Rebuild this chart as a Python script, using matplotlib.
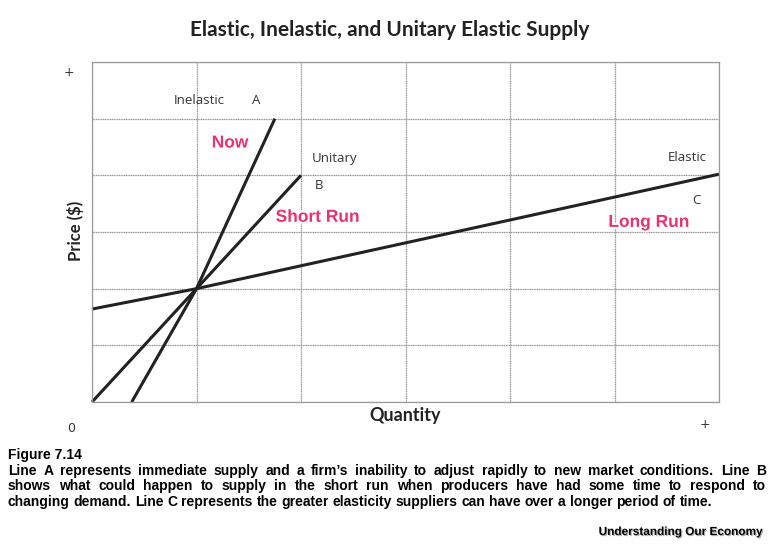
import matplotlib
matplotlib.use("Agg")
import matplotlib.pyplot as plt
import matplotlib.patheffects as pe

# grid cells (6 x 6), crossing point of the three supply lines at (1, 2)
n_cells = 6

line_a_x = [0.38, 1.0, 1.75]
line_a_y = [0.0, 2.0, 5.0]
line_b_x = [0.0, 1.0, 2.0]
line_b_y = [0.0, 2.0, 4.0]
line_c_x = [0.0, 1.0, 6.0]
line_c_y = [1.64, 2.0, 4.02]

title = "Elastic, Inelastic, and Unitary Elastic Supply"
caption_head = "Figure 7.14"
caption_lines = [
    "Line A represents immediate supply and a firm\u2019s inability to adjust rapidly to new market conditions. Line B",
    "shows what could happen to supply in the short run when producers have had some time to respond to",
    "changing demand. Line C represents the greater elasticity suppliers can have over a longer period of time.",
]
source = "Understanding Our Economy"

pink = "#e8336f"
grid_col = "#9a9a9a"

fig = plt.figure(figsize=(7.74, 5.45), dpi=100)
ax = fig.add_axes([92 / 774, 1 - 402 / 545, (719 - 92) / 774, (402 - 62) / 545])
ax.set_xlim(0, n_cells)
ax.set_ylim(0, n_cells)
ax.set_xticks(range(n_cells + 1))
ax.set_yticks(range(n_cells + 1))
ax.tick_params(length=0, labelbottom=False, labelleft=False)
ax.grid(True, color=grid_col, linewidth=0.9, linestyle=(0, (1, 0.4)))
for s in ax.spines.values():
    s.set_color(grid_col)
    s.set_linewidth(0.9)

for xs, ys in [(line_a_x, line_a_y), (line_b_x, line_b_y), (line_c_x, line_c_y)]:
    ax.plot(xs, ys, color="#222222", linewidth=2.2, solid_capstyle="butt", clip_on=False)

label_font = dict(family="Open Sans", fontsize=9.5, color="#333333")
ax.text(0.78, 5.32, "Inelastic", ha="left", va="center", **label_font)
ax.text(1.53, 5.32, "A", ha="left", va="center", **label_font)
ax.text(2.1, 4.3, "Unitary", ha="left", va="center", **label_font)
ax.text(2.13, 3.82, "B", ha="left", va="center", **label_font)
ax.text(5.88, 4.32, "Elastic", ha="right", va="center", **label_font)
ax.text(5.82, 3.56, "C", ha="right", va="center", **label_font)

fx = [pe.withSimplePatchShadow(offset=(1.0, -1.0), shadow_rgbFace="#777777", alpha=0.6),
      pe.withStroke(linewidth=2.8, foreground="white")]
pink_font = dict(family="Liberation Sans", fontsize=12.5, fontweight="bold", color=pink)
ax.text(1.32, 4.57, "Now", ha="center", va="center", path_effects=fx, **pink_font)
ax.text(2.16, 3.26, "Short Run", ha="center", va="center", path_effects=fx, **pink_font)
ax.text(5.33, 3.17, "Long Run", ha="center", va="center", path_effects=fx, **pink_font)

fig.text(390 / 774, 1 - 30 / 545, title, ha="center", va="center",
         family="Lato", fontsize=15, fontweight="bold", color="#222222")
fig.text(76 / 774, 1 - 231 / 545, "Price ($)", ha="center", va="center", rotation=90,
         family="Lato", fontsize=12, fontweight="bold", color="#222222")
fig.text(405 / 774, 1 - 416 / 545, "Quantity", ha="center", va="center",
         family="Lato", fontsize=13, fontweight="bold", color="#222222")
fig.text(69 / 774, 1 - 72 / 545, "+", ha="center", va="center", fontsize=9, color="#333333")
fig.text(705 / 774, 1 - 424 / 545, "+", ha="center", va="center", fontsize=9, color="#333333")
fig.text(71 / 774, 1 - 428 / 545, "0", ha="center", va="center", fontsize=9, color="#333333")

cap_font = dict(family="Liberation Sans", fontsize=10, fontweight="bold", color="black")
fig.text(8 / 774, 1 - 459 / 545, caption_head, ha="left", va="baseline", **cap_font)

# justified caption: spread words between left and right margins
renderer = fig.canvas.get_renderer()
left_px, right_px = 8, 766
line_base = [475, 490, 506]
for i, (line, yp) in enumerate(zip(caption_lines, line_base)):
    words = line.split(" ")
    texts = [fig.text(0, 1 - yp / 545, w, ha="left", va="baseline", **cap_font) for w in words]
    widths = [t.get_window_extent(renderer).width for t in texts]
    space = fig.text(0, 0, "a a", **cap_font)
    aa = fig.text(0, 0, "aa", **cap_font)
    gap = space.get_window_extent(renderer).width - aa.get_window_extent(renderer).width
    space.remove()
    aa.remove()
    if i < len(caption_lines) - 1:
        gap = (right_px - left_px - sum(widths)) / (len(words) - 1)
    x = left_px
    for t, w in zip(texts, widths):
        t.set_x(x / 774)
        x += w + gap

fig.text(762 / 774, 1 - 535 / 545, source, ha="right", va="baseline",
         path_effects=[pe.withSimplePatchShadow(offset=(0.8, -0.8), shadow_rgbFace="#777777", alpha=0.6)],
         family="Liberation Sans", fontsize=8.5, fontweight="bold", color="black")

fig.savefig("out.png", dpi=100)
